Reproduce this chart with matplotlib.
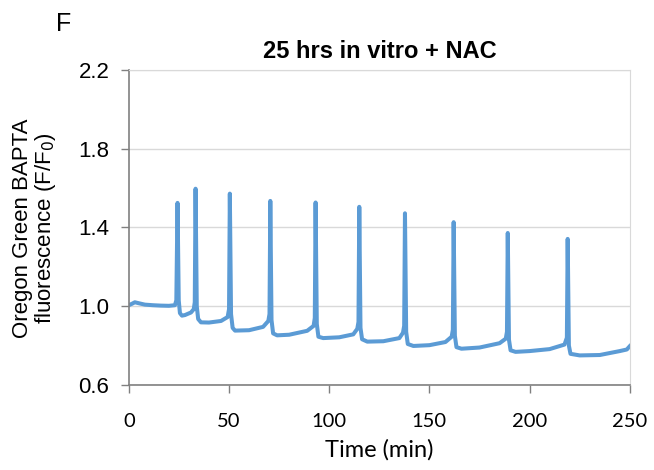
import matplotlib
matplotlib.use("Agg")
from matplotlib import pyplot as plt

# trace, (time in min, F/F0)
time_min = [0, 1.5, 3, 5, 8, 12, 16, 20, 23.0, 23.7, 24.3, 24.9, 25.5, 26.5, 28, 31,
            32.4, 32.9, 33.3, 33.9, 34.6, 36, 40, 46, 49.3, 50.0, 50.4, 51.0, 51.8, 53,
            60, 67, 69.6, 70.2, 70.6, 71.2, 72.0, 74, 80, 89, 92.2, 92.8, 93.2, 93.8,
            94.6, 97, 105, 112, 114.0, 114.6, 115.0, 115.6, 116.4, 119, 127, 135,
            136.8, 137.4, 137.8, 138.4, 139.2, 142, 150, 158, 161.1, 161.7, 162.1,
            162.7, 163.5, 166, 175, 185, 188.1, 188.7, 189.1, 189.7, 190.5, 193, 200,
            210, 217.4, 218.6, 219.0, 219.6, 220.4, 225, 235, 245, 248.5, 250]
fluor = [1.005, 1.012, 1.02, 1.015, 1.008, 1.005, 1.003, 1.002, 1.005, 1.03, 1.525,
         1.03, 0.965, 0.952, 0.955, 0.968, 0.985, 1.02, 1.597, 1.00, 0.935, 0.918,
         0.917, 0.925, 0.945, 0.985, 1.572, 0.96, 0.89, 0.876, 0.878, 0.895, 0.925,
         0.96, 1.535, 0.93, 0.862, 0.852, 0.855, 0.875, 0.90, 0.94, 1.527, 0.91,
         0.845, 0.838, 0.842, 0.857, 0.885, 0.92, 1.505, 0.89, 0.832, 0.82, 0.822,
         0.838, 0.865, 0.90, 1.472, 0.87, 0.808, 0.798, 0.802, 0.818, 0.845, 0.88,
         1.427, 0.85, 0.792, 0.784, 0.79, 0.812, 0.835, 0.87, 1.372, 0.83, 0.776,
         0.768, 0.772, 0.782, 0.805, 0.84, 1.342, 0.80, 0.758, 0.75, 0.752, 0.772,
         0.78, 0.797]

x_ticks = [0, 50, 100, 150, 200, 250]
y_ticks = [0.6, 1.0, 1.4, 1.8, 2.2]

fig = plt.figure(figsize=(6.54, 4.70), dpi=100)
ax = fig.add_axes([0.197, 0.181, 0.766, 0.670])

ax.plot(time_min, fluor, color="#5B9BD5", linewidth=2.9, solid_joinstyle="round")

ax.set_xlim(0, 250)
ax.set_ylim(0.6, 2.2)
ax.set_xticks(x_ticks)
ax.set_yticks(y_ticks)
ax.set_yticklabels([f"{v:.1f}" for v in y_ticks], family="Liberation Sans", fontsize=16)
ax.set_xticklabels([str(v) for v in x_ticks], family="Lato", fontsize=14.5)
ax.tick_params(axis="both", direction="out", length=6, width=1, color="#808080")
ax.tick_params(axis="y", pad=8)
ax.tick_params(axis="x", pad=14)

# light grid like the spreadsheet style
ax.grid(axis="y", color="#D9D9D9", linewidth=1)
ax.set_axisbelow(True)
for side in ["top", "right"]:
    ax.spines[side].set_color("#D9D9D9")
for side in ["left", "bottom"]:
    ax.spines[side].set_color("#808080")
    ax.spines[side].set_linewidth(1.2)

ax.set_xlabel("Time (min)", family="Lato", fontsize=17, labelpad=7)
fig.text(0.053, 0.515, "Oregon Green BAPTA\nfluorescence (F/F$_0$)", rotation=90,
         family="Liberation Sans", fontsize=16, linespacing=1.0,
         ha="center", va="center", multialignment="center")
ax.set_title("25 hrs in vitro + NAC", family="Liberation Sans", fontsize=17,
             fontweight="bold", pad=9)
fig.text(0.085, 0.935, "F", family="Liberation Sans", fontsize=18)

fig.savefig("out.png", dpi=100)
